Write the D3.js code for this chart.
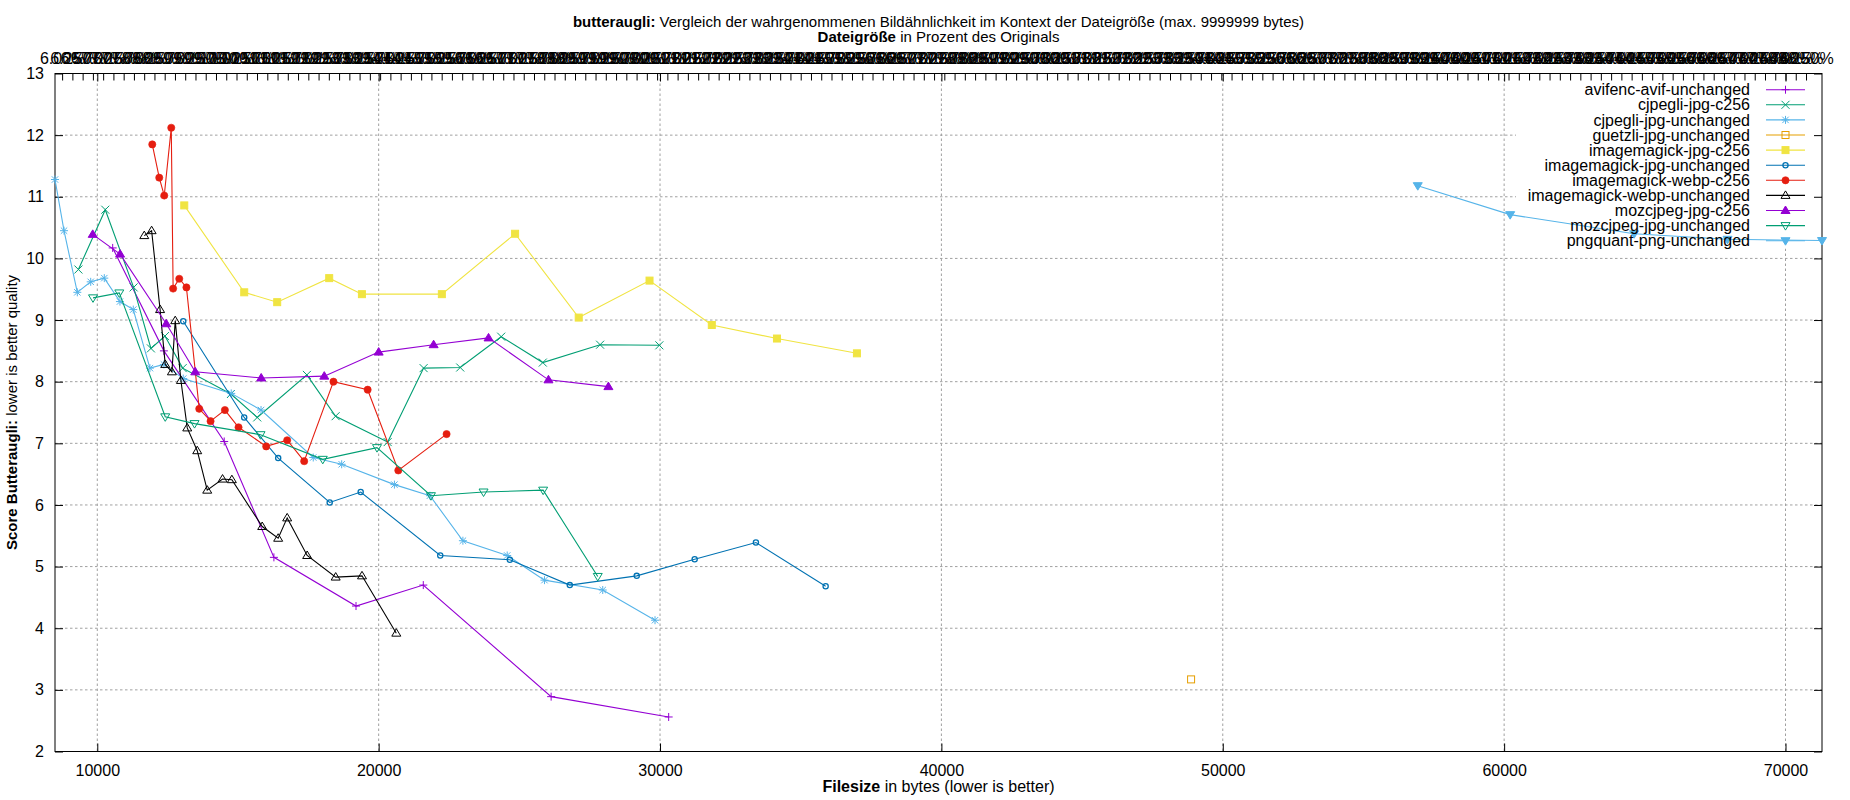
<!DOCTYPE html>
<html><head><meta charset="utf-8">
<script src="https://cdn.jsdelivr.net/npm/d3@7"></script>
<style>
body{margin:0;background:#fff}
text{font-family:"Liberation Sans",Arial,sans-serif;fill:#000}
</style>
</head><body>
<svg id="chart" width="1850" height="800"></svg>
<script>
// ---------- data (filesize in bytes, butteraugli score) ----------
const seriesNames = [
  "avifenc-avif-unchanged","cjpegli-jpg-c256","cjpegli-jpg-unchanged","guetzli-jpg-unchanged",
  "imagemagick-jpg-c256","imagemagick-jpg-unchanged","imagemagick-webp-c256","imagemagick-webp-unchanged",
  "mozcjpeg-jpg-c256","mozcjpeg-jpg-unchanged","pngquant-png-unchanged"
];
const seriesColors = ["#9400d3","#009e73","#56b4e9","#e69f00","#f0e442","#0072b2","#e51e10","#000000","#9400d3","#009e73","#56b4e9"];
const seriesSymbols = ["plus","cross","star","squareOpen","squareFilled","circleOpen","circleFilled","triangleOpen","triangleFilled","downOpen","downFilled"];

const avifencAvifUnchanged = [[10547,10.17],[12368,8.50],[14511,7.03],[16277,5.15],[19195,4.36],[21586,4.70],[26130,2.89],[30307,2.56]];
const cjpegliJpgC256 = [[9329,9.82],[10284,10.79],[11291,9.53],[11906,8.54],[12405,8.74],[13034,8.22],[14750,7.80],[15684,7.42],[17449,8.11],[18470,7.44],[20320,7.02],[21598,8.22],[22899,8.23],[24355,8.73],[25834,8.31],[27870,8.60],[29976,8.59]];
const cjpegliJpgUnchanged = [[8497,11.28],[8817,10.45],[9290,9.45],[9766,9.62],[10249,9.68],[10806,9.30],[11279,9.17],[11871,8.22],[12368,8.28],[13055,8.05],[14760,7.81],[15820,7.54],[17675,6.77],[18686,6.66],[20560,6.33],[21822,6.15],[22994,5.42],[24568,5.18],[25893,4.78],[27964,4.62],[29822,4.13]];
const guetzliJpgUnchanged = [[48874,3.17]];
const imagemagickJpgC256 = [[13091,10.86],[15222,9.45],[16394,9.29],[18242,9.68],[19405,9.42],[22246,9.42],[24849,10.40],[27110,9.04],[29627,9.64],[31840,8.92],[34156,8.70],[36998,8.46]];
const imagemagickJpgUnchanged = [[13055,8.98],[15221,7.42],[16429,6.76],[18260,6.04],[19361,6.21],[22189,5.18],[24663,5.11],[26793,4.70],[29172,4.85],[31231,5.12],[33408,5.39],[35886,4.68]];
const imagemagickWebpC256 = [[11954,11.85],[12202,11.31],[12380,11.02],[12629,12.12],[12695,9.51],[12913,9.67],[13168,9.53],[13623,7.56],[14026,7.36],[14535,7.54],[15020,7.26],[16003,6.95],[16749,7.05],[17353,6.71],[18393,8.00],[19609,7.87],[20698,6.56],[22414,7.15]];
const imagemagickWebpUnchanged = [[11670,10.37],[11931,10.45],[12232,9.17],[12415,8.28],[12652,8.16],[12770,8.99],[12972,8.02],[13197,7.25],[13552,6.88],[13907,6.24],[14452,6.42],[14783,6.41],[15861,5.65],[16429,5.46],[16749,5.79],[17459,5.18],[18473,4.83],[19408,4.85],[20627,3.92]];
const mozcjpegJpgC256 = [[9837,10.39],[10810,10.07],[12451,8.94],[13481,8.16],[15825,8.06],[18067,8.09],[20000,8.48],[21953,8.60],[23905,8.71],[26035,8.03],[28165,7.92]];
const mozcjpegJpgUnchanged = [[9848,9.36],[10782,9.44],[12415,7.43],[13457,7.32],[15802,7.14],[18014,6.74],[19941,6.93],[21858,6.15],[23728,6.21],[25846,6.24],[27787,4.84]];
const pngquantPngUnchanged = [[56930,11.18],[60215,10.71],[64620,10.40],[67940,10.31],[71297,10.29]];

const seriesValues = [avifencAvifUnchanged,cjpegliJpgC256,cjpegliJpgUnchanged,guetzliJpgUnchanged,imagemagickJpgC256,imagemagickJpgUnchanged,imagemagickWebpC256,imagemagickWebpUnchanged,mozcjpegJpgC256,mozcjpegJpgUnchanged,pngquantPngUnchanged];

const xTicks = [10000,20000,30000,40000,50000,60000,70000];
const yTicks = [2,3,4,5,6,7,8,9,10,11,12,13];
const xDomain = [8497, 71297];
const yDomain = [2, 13];
const originalBytes = 145833;   // x2 axis: file size as percent of original
const x2StepPercent = 0.25;

// ---------- layout ----------
const L = 55, R = 1822, T = 73.5, B = 751.5;
const FONT = 15, TICKFONT = 16;
const svg = d3.select("#chart");
const x = d3.scaleLinear().domain(xDomain).range([L, R]);
const y = d3.scaleLinear().domain(yDomain).range([B, T]);
const x2 = d3.scaleLinear().domain(xDomain.map(v => v / originalBytes * 100)).range([L, R]);

// grid
const grid = svg.append("g").attr("stroke","#a0a0a0").attr("stroke-width",1).attr("stroke-dasharray","2.5,2.5");
xTicks.forEach(t => grid.append("line").attr("x1",x(t)).attr("x2",x(t)).attr("y1",T).attr("y2",B));
yTicks.filter(t => t > yDomain[0] && t < yDomain[1]).forEach(t => grid.append("line").attr("x1",L).attr("x2",R).attr("y1",y(t)).attr("y2",y(t)));

// key background (hides grid)
const keyTop = T, keyBottom = 248, keyLeft = 1516;
svg.append("rect").attr("x",keyLeft).attr("y",keyTop+0.5).attr("width",R-keyLeft-0.5).attr("height",keyBottom-keyTop).attr("fill","#fff");

// axes via d3
const tickLen = 8;
const axB = svg.append("g").attr("transform",`translate(0,${B})`).call(d3.axisBottom(x).tickValues(xTicks).tickSize(-tickLen).tickPadding(tickLen+5).tickFormat(d3.format("d")));
const axT = svg.append("g").attr("transform",`translate(0,${T})`).call(d3.axisTop(x).tickValues(xTicks).tickSize(-tickLen).tickFormat(""));
const axL = svg.append("g").attr("transform",`translate(${L},0)`).call(d3.axisLeft(y).tickValues(yTicks).tickSize(-tickLen).tickPadding(tickLen+3).tickFormat(d3.format("d")));
const axR = svg.append("g").attr("transform",`translate(${R},0)`).call(d3.axisRight(y).tickValues(yTicks).tickSize(-tickLen).tickFormat(""));
const pDom = x2.domain();
const x2Ticks = d3.range(Math.ceil(pDom[0]/x2StepPercent)*x2StepPercent, pDom[1] - x2StepPercent, x2StepPercent);
const axX2 = svg.append("g").attr("transform",`translate(0,${T})`).call(d3.axisTop(x2).tickValues(x2Ticks).tickSize(-7).tickPadding(10).tickFormat(p => p.toFixed(2) + "%"));
[axB,axT,axL,axR,axX2].forEach(a => {
  a.select(".domain").remove();
  a.selectAll("line").attr("stroke","#000").attr("stroke-width",1);
  a.selectAll("text").attr("font-size",TICKFONT).attr("font-family","'Liberation Sans',Arial,sans-serif").attr("fill","#000");
});
svg.append("rect").attr("x",L).attr("y",T).attr("width",R-L).attr("height",B-T).attr("fill","none").attr("stroke","#000").attr("stroke-width",1);

// symbols
function drawSymbol(g, type, cx, cy, color){
  const s = 4;
  const st = {stroke:color,"stroke-width":1,fill:"none"};
  const apply = (el,o)=>{Object.entries(o).forEach(([k,v])=>el.attr(k,v)); return el;};
  if(type==="plus"){ apply(g.append("path").attr("d",`M${cx-s},${cy}H${cx+s}M${cx},${cy-s}V${cy+s}`),st); }
  else if(type==="cross"){ apply(g.append("path").attr("d",`M${cx-s},${cy-s}L${cx+s},${cy+s}M${cx-s},${cy+s}L${cx+s},${cy-s}`),st); }
  else if(type==="star"){ apply(g.append("path").attr("d",`M${cx-s},${cy}H${cx+s}M${cx},${cy-s}V${cy+s}M${cx-s*0.8},${cy-s*0.8}L${cx+s*0.8},${cy+s*0.8}M${cx-s*0.8},${cy+s*0.8}L${cx+s*0.8},${cy-s*0.8}`),st); }
  else if(type==="squareOpen"){ apply(g.append("rect").attr("x",cx-3.5).attr("y",cy-3.5).attr("width",7).attr("height",7),st); }
  else if(type==="squareFilled"){ g.append("rect").attr("x",cx-3.5).attr("y",cy-3.5).attr("width",7).attr("height",7).attr("fill",color).attr("stroke",color); }
  else if(type==="circleOpen"){ apply(g.append("circle").attr("cx",cx).attr("cy",cy).attr("r",2.6),{stroke:color,"stroke-width":1.3,fill:"none"}); }
  else if(type==="circleFilled"){ g.append("circle").attr("cx",cx).attr("cy",cy).attr("r",3.6).attr("fill",color).attr("stroke",color).attr("stroke-width",0.6); }
  else if(type==="triangleOpen"||type==="triangleFilled"){
    const p = g.append("path").attr("d",`M${cx},${cy-4.5}L${cx+4.5},${cy+3}L${cx-4.5},${cy+3}Z`).attr("stroke",color).attr("stroke-width",1);
    p.attr("fill", type==="triangleFilled"?color:"none");
  }
  else if(type==="downOpen"||type==="downFilled"){
    const p = g.append("path").attr("d",`M${cx},${cy+4.5}L${cx+4.5},${cy-3}L${cx-4.5},${cy-3}Z`).attr("stroke",color).attr("stroke-width",1);
    p.attr("fill", type==="downFilled"?color:"none");
  }
}

// plot series
const line = d3.line().x(d => x(d[0])).y(d => y(d[1]));
const plot = svg.append("g");
seriesValues.forEach((vals,i) => {
  const g = plot.append("g");
  g.append("path").datum(vals).attr("d",line).attr("fill","none").attr("stroke",seriesColors[i]).attr("stroke-width",1.1);
  vals.forEach(d => drawSymbol(g, seriesSymbols[i], x(d[0]), y(d[1]), seriesColors[i]));
});

// legend
const key = svg.append("g");
seriesNames.forEach((n,i) => {
  const cy = 89.7 + i*15.1;
  key.append("text").attr("x",1750).attr("y",cy).attr("dy","0.35em").attr("text-anchor","end").attr("font-size",TICKFONT).text(n);
  key.append("line").attr("x1",1766).attr("x2",1805).attr("y1",cy).attr("y2",cy).attr("stroke",seriesColors[i]).attr("stroke-width",1.1);
  drawSymbol(key, seriesSymbols[i], 1785.5, cy, seriesColors[i]);
});

// titles
const cx = (L+R)/2;
const t1 = svg.append("text").attr("x",cx).attr("y",26.5).attr("text-anchor","middle").attr("font-size",FONT);
t1.append("tspan").attr("font-weight","bold").text("butteraugli:");
t1.append("tspan").text(" Vergleich der wahrgenommenen Bildähnlichkeit im Kontext der Dateigröße (max. 9999999 bytes)");
const t2 = svg.append("text").attr("x",cx).attr("y",42).attr("text-anchor","middle").attr("font-size",FONT);
t2.append("tspan").attr("font-weight","bold").text("Dateigröße");
t2.append("tspan").text(" in Prozent des Originals");
const xl = svg.append("text").attr("x",cx).attr("y",791.5).attr("text-anchor","middle").attr("font-size",TICKFONT);
xl.append("tspan").attr("font-weight","bold").text("Filesize");
xl.append("tspan").text(" in bytes (lower is better)");
const yl = svg.append("text").attr("transform",`translate(17,${(T+B)/2}) rotate(-90)`).attr("text-anchor","middle").attr("font-size",FONT);
yl.append("tspan").attr("font-weight","bold").text("Score Butteraugli:");
yl.append("tspan").text(" lower is better quality");
</script>
</body></html>
